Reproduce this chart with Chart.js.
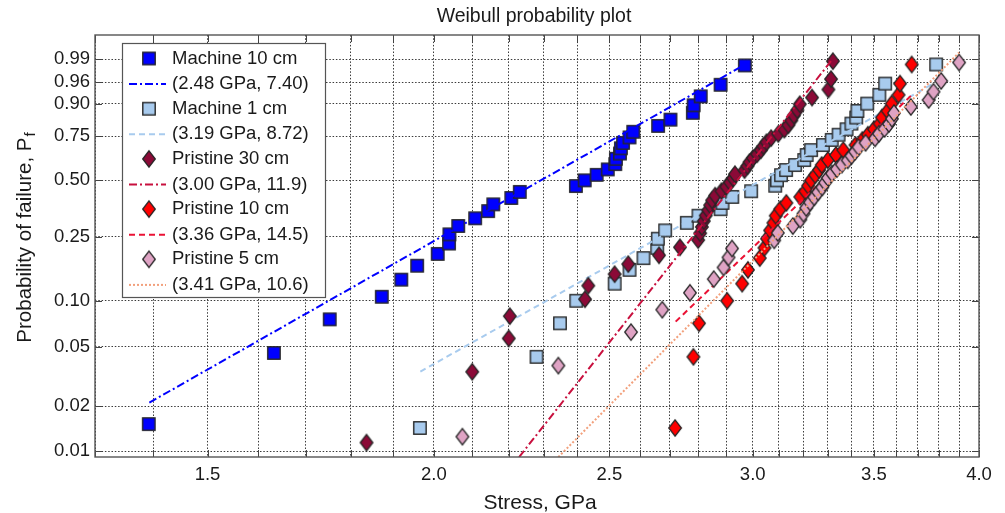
<!DOCTYPE html>
<html>
<head>
<meta charset="utf-8">
<script src="https://cdn.jsdelivr.net/npm/chart.js@4.4.1/dist/chart.umd.min.js"></script>
<style>
  html, body { margin: 0; padding: 0; background: #fff; }
  canvas { display: block; }
</style>
</head>
<body>
<canvas id="canvas" width="1005" height="513"></canvas>
<script>
const title = "Weibull probability plot";
const xTitle = "Stress, GPa";
const yTitle = "Probability of failure, P";
const yTitleSub = "f";

const xGrid = [1.3, 1.4, 1.5, 1.6, 1.7, 1.8, 1.9, 2.0, 2.1, 2.2, 2.3, 2.4, 2.5, 2.6, 2.7, 2.8, 2.9, 3.0, 3.1, 3.2, 3.3, 3.4, 3.5, 3.6, 3.7, 3.8, 3.9, 4.0];
const xTickLabels = ["1.5", "2.0", "2.5", "3.0", "3.5", "4.0"];
const yTickValues = [0.01, 0.02, 0.05, 0.10, 0.25, 0.50, 0.75, 0.90, 0.96, 0.99];
const yTickLabels = ["0.01", "0.02", "0.05", "0.10", "0.25", "0.50", "0.75", "0.90", "0.96", "0.99"];

const seriesNames = ["Machine 10 cm", "Machine 1 cm", "Pristine 30 cm", "Pristine 10 cm", "Pristine 5 cm"];
const fitNames = ["(2.48 GPa, 7.40)", "(3.19 GPa, 8.72)", "(3.00 GPa, 11.9)", "(3.36 GPa, 14.5)", "(3.41 GPa, 10.6)"];

// measured points: stress (GPa) and probability of failure
const machine10Stress = [1.392, 1.632, 1.752, 1.872, 1.919, 1.958, 2.010, 2.039, 2.040, 2.063, 2.108, 2.143, 2.157, 2.207, 2.231, 2.396, 2.423, 2.460, 2.495, 2.519, 2.521, 2.534, 2.537, 2.544, 2.565, 2.577, 2.660, 2.702, 2.780, 2.783, 2.808, 2.880, 2.970];
const machine10Prob = [0.0152, 0.0455, 0.0758, 0.1061, 0.1364, 0.1667, 0.1970, 0.2273, 0.2576, 0.2879, 0.3182, 0.3485, 0.3788, 0.4091, 0.4394, 0.4697, 0.5000, 0.5303, 0.5606, 0.5909, 0.6212, 0.6515, 0.6818, 0.7121, 0.7424, 0.7727, 0.8030, 0.8333, 0.8636, 0.8939, 0.9242, 0.9545, 0.9848];

const machine1Stress = [1.965, 2.279, 2.348, 2.397, 2.517, 2.565, 2.611, 2.657, 2.659, 2.684, 2.759, 2.800, 2.880, 2.887, 2.923, 2.994, 3.087, 3.094, 3.110, 3.130, 3.166, 3.203, 3.213, 3.231, 3.280, 3.317, 3.346, 3.380, 3.401, 3.422, 3.427, 3.470, 3.524, 3.550, 3.788];
const machine1Prob = [0.0143, 0.0429, 0.0714, 0.1000, 0.1286, 0.1571, 0.1857, 0.2143, 0.2429, 0.2714, 0.3000, 0.3286, 0.3571, 0.3857, 0.4143, 0.4429, 0.4714, 0.5000, 0.5286, 0.5571, 0.5857, 0.6143, 0.6429, 0.6714, 0.7000, 0.7286, 0.7571, 0.7857, 0.8143, 0.8429, 0.8714, 0.9000, 0.9286, 0.9571, 0.9857];

const pristine30Stress = [1.836, 2.100, 2.200, 2.203, 2.424, 2.434, 2.517, 2.561, 2.663, 2.735, 2.799, 2.806, 2.812, 2.819, 2.826, 2.835, 2.842, 2.849, 2.860, 2.883, 2.901, 2.915, 2.926, 2.933, 2.969, 2.980, 2.988, 3.001, 3.017, 3.031, 3.041, 3.053, 3.071, 3.099, 3.123, 3.139, 3.151, 3.161, 3.175, 3.185, 3.235, 3.303, 3.314, 3.322];
const pristine30Prob = [0.0114, 0.0341, 0.0568, 0.0795, 0.1023, 0.1250, 0.1477, 0.1705, 0.1932, 0.2159, 0.2386, 0.2614, 0.2841, 0.3068, 0.3295, 0.3523, 0.3750, 0.3977, 0.4205, 0.4432, 0.4659, 0.4886, 0.5114, 0.5341, 0.5568, 0.5795, 0.6023, 0.6250, 0.6477, 0.6705, 0.6932, 0.7159, 0.7386, 0.7614, 0.7841, 0.8068, 0.8295, 0.8523, 0.8750, 0.8977, 0.9205, 0.9432, 0.9659, 0.9886];

const pristine10Stress = [2.718, 2.782, 2.802, 2.904, 2.960, 2.982, 3.027, 3.045, 3.055, 3.067, 3.080, 3.089, 3.107, 3.131, 3.187, 3.207, 3.219, 3.231, 3.248, 3.264, 3.275, 3.301, 3.335, 3.366, 3.419, 3.449, 3.473, 3.500, 3.525, 3.536, 3.561, 3.580, 3.611, 3.618, 3.672];
const pristine10Prob = [0.0143, 0.0429, 0.0714, 0.1000, 0.1286, 0.1571, 0.1857, 0.2143, 0.2429, 0.2714, 0.3000, 0.3286, 0.3571, 0.3857, 0.4143, 0.4429, 0.4714, 0.5000, 0.5286, 0.5571, 0.5857, 0.6143, 0.6429, 0.6714, 0.7000, 0.7286, 0.7571, 0.7857, 0.8143, 0.8429, 0.8714, 0.9000, 0.9286, 0.9571, 0.9857];

const pristine5Stress = [2.074, 2.343, 2.570, 2.674, 2.770, 2.855, 2.891, 2.909, 2.922, 3.083, 3.097, 3.157, 3.187, 3.200, 3.211, 3.227, 3.244, 3.260, 3.277, 3.289, 3.301, 3.318, 3.339, 3.360, 3.385, 3.401, 3.417, 3.432, 3.463, 3.505, 3.522, 3.547, 3.567, 3.581, 3.590, 3.668, 3.752, 3.775, 3.812, 3.900];
const pristine5Prob = [0.0125, 0.0375, 0.0625, 0.0875, 0.1125, 0.1375, 0.1625, 0.1875, 0.2125, 0.2375, 0.2625, 0.2875, 0.3125, 0.3375, 0.3625, 0.3875, 0.4125, 0.4375, 0.4625, 0.4875, 0.5125, 0.5375, 0.5625, 0.5875, 0.6125, 0.6375, 0.6625, 0.6875, 0.7125, 0.7375, 0.7625, 0.7875, 0.8125, 0.8375, 0.8625, 0.8875, 0.9125, 0.9375, 0.9625, 0.9875];

// fitted lines, end points
const machine10FitStress = [1.393, 2.966];
const machine10FitProb = [0.0212, 0.985];
const machine1FitStress = [1.966, 3.77];
const machine1FitProb = [0.0342, 0.956];
const pristine30FitStress = [2.229, 3.32];
const pristine30FitProb = [0.0091, 0.99];
const pristine10FitStress = [2.72, 3.672];
const pristine10FitProb = [0.0732, 0.928];
const pristine5FitStress = [2.343, 3.90];
const pristine5FitProb = [0.0091, 0.994];

// weibull axis: ln(-ln(1 - P))
const weib = (p) => Math.log(-Math.log(1 - p));
const pairs = (xs, ps) => xs.map((x, i) => ({ x, y: weib(ps[i]) }));

const FONT = "Arial, 'Liberation Sans', sans-serif";
const EDGE = "#262626";

function square(fill) {
  const c = document.createElement("canvas");
  c.width = 16; c.height = 16;
  const g = c.getContext("2d");
  g.fillStyle = fill; g.strokeStyle = EDGE; g.lineWidth = 1.4;
  g.fillRect(1.8, 1.8, 12.4, 12.4);
  g.strokeRect(1.8, 1.8, 12.4, 12.4);
  return c;
}
function diamond(fill) {
  const c = document.createElement("canvas");
  c.width = 16; c.height = 20;
  const g = c.getContext("2d");
  g.fillStyle = fill; g.strokeStyle = EDGE; g.lineWidth = 1.3;
  g.beginPath();
  g.moveTo(8, 1.8); g.lineTo(14.3, 10); g.lineTo(8, 18.2); g.lineTo(1.7, 10);
  g.closePath(); g.fill(); g.stroke();
  return c;
}

const markers = [square("#0000ff"), square("#a8cbee"), diamond("#8b0a37"), diamond("#ff0000"), diamond("#dfa3c4")];
const lineColors = ["#0000ff", "#a8cbee", "#c8103e", "#ea1235", "#f2a07c"];
const lineDashes = [[8, 3, 2, 3], [6, 4], [8, 3, 2, 3], [6, 4], [2, 2]];

const pointSets = [
  pairs(machine10Stress, machine10Prob),
  pairs(machine1Stress, machine1Prob),
  pairs(pristine30Stress, pristine30Prob),
  pairs(pristine10Stress, pristine10Prob),
  pairs(pristine5Stress, pristine5Prob)
];
const fitSets = [
  pairs(machine10FitStress, machine10FitProb),
  pairs(machine1FitStress, machine1FitProb),
  pairs(pristine30FitStress, pristine30FitProb),
  pairs(pristine10FitStress, pristine10FitProb),
  pairs(pristine5FitStress, pristine5FitProb)
];

const datasets = [];
seriesNames.forEach((name, i) => {
  datasets.push({
    label: name,
    data: pointSets[i],
    pointStyle: markers[i],
    pointRadius: 8,
    order: 10 - 2 * i
  });
  datasets.push({
    label: fitNames[i],
    data: fitSets[i],
    showLine: true,
    pointRadius: 0,
    borderColor: lineColors[i],
    borderWidth: 2,
    borderDash: lineDashes[i],
    order: 9 - 2 * i
  });
});

const decor = {
  id: "decor",
  afterDatasetsDraw(chart) {
    const { ctx, chartArea: a, scales } = chart;
    const x = scales.x, y = scales.y;
    ctx.save();

    // inward tick marks on all four sides
    ctx.strokeStyle = "#444";
    ctx.lineWidth = 1;
    ctx.beginPath();
    xGrid.forEach((v) => {
      const px = Math.round(x.getPixelForValue(v)) + 0.5;
      ctx.moveTo(px, a.bottom); ctx.lineTo(px, a.bottom - 7);
      ctx.moveTo(px, a.top); ctx.lineTo(px, a.top + 7);
    });
    yTickValues.forEach((p) => {
      const py = Math.round(y.getPixelForValue(weib(p))) + 0.5;
      ctx.moveTo(a.left, py); ctx.lineTo(a.left + 7, py);
      ctx.moveTo(a.right, py); ctx.lineTo(a.right - 7, py);
    });
    ctx.stroke();

    ctx.lineWidth = 1.4;
    ctx.strokeStyle = "#555";
    ctx.strokeRect(a.left, a.top, a.right - a.left, a.bottom - a.top);

    // legend box
    const lx = a.left + 27, ly = a.top + 8, lw = 203, lh = 254;
    ctx.fillStyle = "#fff";
    ctx.fillRect(lx, ly, lw, lh);
    ctx.lineWidth = 1.2;
    ctx.strokeStyle = "#555";
    ctx.strokeRect(lx + 0.5, ly + 0.5, lw, lh);
    ctx.font = "18.5px " + FONT;
    ctx.textBaseline = "middle";
    ctx.textAlign = "left";
    seriesNames.forEach((name, i) => {
      const rowA = ly + 15.5 + i * 50.2;
      const rowB = rowA + 25.6;
      const m = markers[i];
      ctx.drawImage(m, lx + 27 - m.width / 2, rowA - m.height / 2);
      ctx.fillStyle = "#1a1a1a";
      ctx.fillText(name, lx + 50, rowA);
      ctx.save();
      ctx.strokeStyle = lineColors[i];
      ctx.lineWidth = 2;
      ctx.setLineDash(lineDashes[i]);
      ctx.beginPath();
      ctx.moveTo(lx + 7, rowB); ctx.lineTo(lx + 44, rowB);
      ctx.stroke();
      ctx.restore();
      ctx.fillStyle = "#1a1a1a";
      ctx.fillText(fitNames[i], lx + 50, rowB);
    });

    // titles
    ctx.fillStyle = "#1a1a1a";
    ctx.textAlign = "center";
    ctx.font = "19.5px " + FONT;
    ctx.fillText(title, (a.left + a.right) / 2 - 3, 17);
    ctx.font = "21px " + FONT;
    ctx.fillText(xTitle, (a.left + a.right) / 2 + 3, 503);

    ctx.save();
    ctx.translate(25, (a.top + a.bottom) / 2 - 8);
    ctx.rotate(-Math.PI / 2);
    ctx.font = "20.5px " + FONT;
    const w1 = ctx.measureText(yTitle).width;
    ctx.font = "15px " + FONT;
    const w2 = ctx.measureText(yTitleSub).width;
    const start = -(w1 + w2) / 2;
    ctx.textAlign = "left";
    ctx.font = "20.5px " + FONT;
    ctx.fillText(yTitle, start, 0);
    ctx.font = "15px " + FONT;
    ctx.fillText(yTitleSub, start + w1 + 1, 6);
    ctx.restore();

    ctx.restore();
  }
};

new Chart(document.getElementById("canvas"), {
  type: "scatter",
  data: { datasets },
  options: {
    responsive: false,
    animation: false,
    devicePixelRatio: 1,
    layout: { padding: { left: 0, right: 26, top: 35, bottom: 0 } },
    plugins: {
      legend: { display: false },
      tooltip: { enabled: false },
      title: { display: false }
    },
    scales: {
      x: {
        type: "logarithmic",
        min: 1.3,
        max: 4.0,
        afterBuildTicks: (s) => { s.ticks = xGrid.map((v) => ({ value: v })); },
        afterFit: (s) => { s.height = 56; },
        grid: { color: "#3a3a3a", lineWidth: 1, drawTicks: false },
        border: { display: false, dash: [1.5, 1.8] },
        ticks: {
          autoSkip: false,
          maxRotation: 0,
          padding: 7,
          color: "#1a1a1a",
          font: { family: FONT, size: 18.5 },
          callback: (v) => {
            const s = Number(v).toFixed(1);
            return xTickLabels.includes(s) ? s : "";
          }
        }
      },
      y: {
        type: "linear",
        min: -4.694,
        max: 1.907,
        afterBuildTicks: (s) => { s.ticks = yTickValues.map((p) => ({ value: weib(p) })); },
        afterFit: (s) => { s.width = 95; },
        grid: { color: "#3a3a3a", lineWidth: 1, drawTicks: false },
        border: { display: false, dash: [1.5, 1.8] },
        ticks: {
          autoSkip: false,
          padding: 5,
          color: "#1a1a1a",
          font: { family: FONT, size: 18.5 },
          callback: (v, i) => yTickLabels[i]
        }
      }
    }
  },
  plugins: [decor]
});
</script>
</body>
</html>
